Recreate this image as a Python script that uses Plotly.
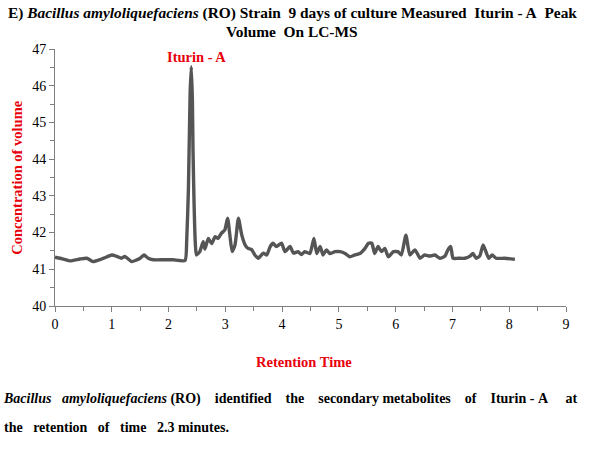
import plotly.graph_objects as go

# retention time (min) and concentration
retention_time = [
    0.00, 0.09, 0.26, 0.44, 0.56, 0.67, 0.82, 1.00, 1.09, 1.17, 1.23, 1.35,
    1.50, 1.57, 1.64, 1.73, 1.93, 2.08, 2.29, 2.32, 2.35, 2.38, 2.40, 2.42,
    2.43, 2.45, 2.47, 2.49, 2.55, 2.61, 2.64, 2.70, 2.76, 2.82, 2.87, 2.93,
    2.99, 3.04, 3.08, 3.12, 3.17, 3.23, 3.29, 3.35, 3.40, 3.46, 3.52, 3.58,
    3.67, 3.73, 3.79, 3.84, 3.90, 3.99, 4.05, 4.14, 4.20, 4.28, 4.34, 4.40,
    4.49, 4.56, 4.61, 4.67, 4.72, 4.78, 4.84, 4.93, 5.02, 5.11, 5.19, 5.28,
    5.37, 5.46, 5.52, 5.58, 5.63, 5.69, 5.75, 5.81, 5.87, 5.96, 6.04, 6.10,
    6.18, 6.25, 6.34, 6.43, 6.51, 6.60, 6.69, 6.78, 6.87, 6.92, 6.97, 7.01,
    7.10, 7.22, 7.31, 7.36, 7.42, 7.48, 7.54, 7.59, 7.64, 7.70, 7.77, 7.92,
    8.10,
]
concentration = [
    41.33, 41.30, 41.23, 41.28, 41.30, 41.21, 41.28, 41.39, 41.35, 41.30, 41.35, 41.21,
    41.30, 41.39, 41.30, 41.26, 41.26, 41.26, 41.24, 41.80, 43.20, 45.80, 46.52, 45.60,
    44.30, 42.75, 41.75, 41.39, 41.48, 41.75, 41.55, 41.84, 41.70, 41.89, 41.84, 41.98,
    42.07, 42.39, 41.93, 41.48, 41.66, 42.39, 41.93, 41.66, 41.57, 41.54, 41.39, 41.30,
    41.44, 41.39, 41.62, 41.71, 41.62, 41.71, 41.48, 41.62, 41.44, 41.48, 41.40, 41.48,
    41.43, 41.84, 41.43, 41.62, 41.39, 41.53, 41.43, 41.48, 41.48, 41.43, 41.34, 41.39,
    41.43, 41.57, 41.71, 41.71, 41.43, 41.62, 41.48, 41.57, 41.34, 41.48, 41.48, 41.39,
    41.93, 41.39, 41.53, 41.30, 41.39, 41.36, 41.39, 41.30, 41.36, 41.53, 41.62, 41.30,
    41.30, 41.30, 41.36, 41.43, 41.30, 41.36, 41.66, 41.48, 41.30, 41.39, 41.30, 41.30,
    41.27,
]
x_ticks = [0, 1, 2, 3, 4, 5, 6, 7, 8, 9]
y_ticks = [40, 41, 42, 43, 44, 45, 46, 47]

serif = "Liberation Serif"
red = "#e8000b"
sp = "\u00a0"

fig = go.Figure()
fig.add_trace(go.Scatter(
    x=retention_time, y=concentration, mode="lines",
    line=dict(color="#555555", width=3.4, shape="spline", smoothing=0.5),
    showlegend=False, hoverinfo="skip",
))

axis_style = dict(
    showgrid=False, zeroline=False, showline=True, linecolor="#7f7f7f", linewidth=1,
    ticks="outside", ticklen=5, tickcolor="#7f7f7f", tickwidth=1,
    tickfont=dict(family=serif, size=14, color="#000000"),
    minor=dict(ticks="outside", ticklen=4, tickcolor="#7f7f7f", dtick=0.5),
)

fig.update_xaxes(range=[0, 9], tickvals=x_ticks, **axis_style)
fig.update_yaxes(range=[40, 47], tickvals=y_ticks, **axis_style)

fig.update_layout(
    width=600, height=450,
    margin=dict(l=55, r=34, t=49, b=144),
    paper_bgcolor="white", plot_bgcolor="white",
    font=dict(family=serif, size=14, color="#000000"),
)

caption_1 = (f"<b><i>Bacillus{sp*3}amyloliquefaciens</i>{sp}(RO){sp*4}identified{sp*4}the{sp*4}"
             f"secondary{sp}metabolites{sp*4}of{sp*4}Iturin{sp}-{sp}A{sp*5}at</b>")
caption_2 = f"<b>the{sp*3}retention{sp*3}of{sp*3}time{sp*3}2.3{sp}minutes.</b>"

annotations = [
    # title, two centred lines
    dict(text=f"<b>E) <i>Bacillus amyloliquefaciens</i> (RO) Strain{sp} 9 days of culture Measured{sp} Iturin - A{sp} Peak</b>",
         xref="paper", yref="paper", x=0.464, y=1.142, xanchor="center", yanchor="middle",
         showarrow=False, font=dict(size=15.4)),
    dict(text=f"<b>Volume{sp} On LC-MS</b>",
         xref="paper", yref="paper", x=0.464, y=1.07, xanchor="center", yanchor="middle",
         showarrow=False, font=dict(size=15.4)),
    # peak label
    dict(text="<b>Iturin - A</b>", x=2.5, y=46.78, xanchor="center", yanchor="middle",
         showarrow=False, font=dict(size=14.5, color=red)),
    # axis titles
    dict(text="<b>Retention Time</b>", xref="paper", yref="paper", x=0.488, y=-0.218,
         xanchor="center", yanchor="middle", showarrow=False, font=dict(size=14.5, color=red)),
    dict(text="<b>Concentration of volume</b>", xref="paper", yref="paper", x=-0.076, y=0.5,
         xanchor="center", yanchor="middle", textangle=-90, showarrow=False,
         font=dict(size=14.5, color=red)),
    # caption below the chart
    dict(text=caption_1, xref="paper", yref="paper", x=-0.106, y=-0.362,
         xanchor="left", yanchor="middle", showarrow=False, font=dict(size=14)),
    dict(text=caption_2, xref="paper", yref="paper", x=-0.104, y=-0.471,
         xanchor="left", yanchor="middle", showarrow=False, font=dict(size=14)),
]
fig.update_layout(annotations=annotations)

# page body has an 8px default margin; drop it so the figure sits at the window corner
fig.write_html("out.html", config={"displayModeBar": False},
               post_script="document.body.style.margin='0';")
